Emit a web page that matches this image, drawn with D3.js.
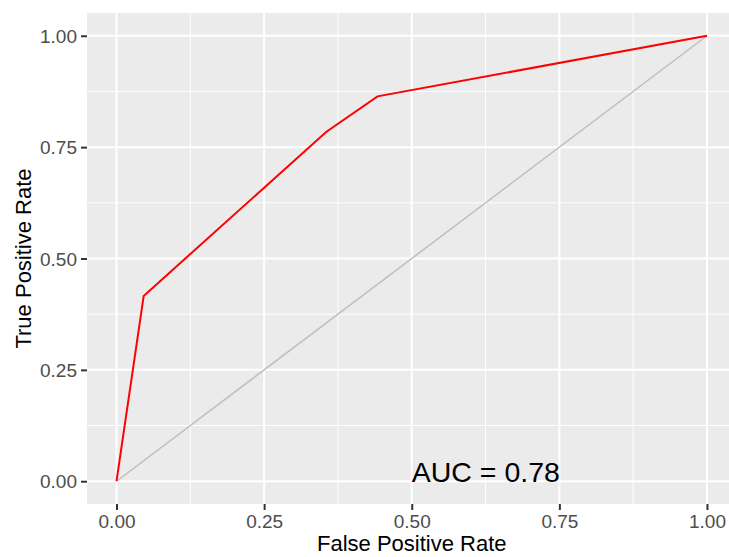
<!DOCTYPE html>
<html>
<head>
<meta charset="utf-8">
<script src="https://cdn.jsdelivr.net/npm/d3@7"></script>
<style>
    body { margin: 0; background: #fff; }
    text { font-family: "Liberation Sans", Arial, sans-serif; }
</style>
</head>
<body>
<div id="chart"></div>
<script>
// ROC curve points
const fpr = [0, 0.046, 0.355, 0.442, 1];
const tpr = [0, 0.416, 0.784, 0.864, 1];
const diagX = [0, 1];
const diagY = [0, 1];
const tickValues = [0, 0.25, 0.5, 0.75, 1];
const minorValues = [0.125, 0.375, 0.625, 0.875];
const aucLabel = "AUC = 0.78";

const width = 729, height = 557;
const panel = {left: 87, right: 729, top: 13, bottom: 504};

const svg = d3.select('#chart')
    .append('svg')
    .attr('width', width)
    .attr('height', height);

// ggplot style 5% expansion
const x = d3.scaleLinear().domain([-0.05, 1.05]).range([87, 736.5]);
const y = d3.scaleLinear().domain([-0.05, 1.05]).range([503.5, 13.5]);

svg.append('rect')
    .attr('x', panel.left)
    .attr('y', panel.top)
    .attr('width', panel.right - panel.left)
    .attr('height', panel.bottom - panel.top)
    .attr('fill', '#EBEBEB');

const grid = svg.append('g');
// minor grid
minorValues.forEach(v => {
    grid.append('line')
        .attr('x1', x(v)).attr('x2', x(v))
        .attr('y1', panel.top).attr('y2', panel.bottom)
        .attr('stroke', '#fff').attr('stroke-width', 1);
    grid.append('line')
        .attr('y1', y(v)).attr('y2', y(v))
        .attr('x1', panel.left).attr('x2', panel.right)
        .attr('stroke', '#fff').attr('stroke-width', 1);
});
// major grid
tickValues.forEach(v => {
    grid.append('line')
        .attr('x1', x(v)).attr('x2', x(v))
        .attr('y1', panel.top).attr('y2', panel.bottom)
        .attr('stroke', '#fff').attr('stroke-width', 2);
    grid.append('line')
        .attr('y1', y(v)).attr('y2', y(v))
        .attr('x1', panel.left).attr('x2', panel.right)
        .attr('stroke', '#fff').attr('stroke-width', 2);
});

const line = d3.line()
    .x(d => x(d[0]))
    .y(d => y(d[1]));

svg.append('path')
    .datum(diagX.map((d, i) => [d, diagY[i]]))
    .attr('d', line)
    .attr('fill', 'none')
    .attr('stroke', '#BEBEBE')
    .attr('stroke-width', 1.5);

svg.append('path')
    .datum(fpr.map((d, i) => [d, tpr[i]]))
    .attr('d', line)
    .attr('fill', 'none')
    .attr('stroke', '#FF0000')
    .attr('stroke-width', 2);

svg.append('text')
    .attr('x', x(0.5))
    .attr('y', y(0) + 1)
    .attr('font-size', '28.5px')
    .attr('fill', '#000')
    .text(aucLabel);

// axes
const xAxis = svg.append('g')
    .attr('transform', `translate(0,${panel.bottom})`)
    .call(d3.axisBottom(x).tickValues(tickValues).tickFormat(d3.format('.2f')).tickSize(6).tickPadding(5));
const yAxis = svg.append('g')
    .attr('transform', `translate(${panel.left},0)`)
    .call(d3.axisLeft(y).tickValues(tickValues).tickFormat(d3.format('.2f')).tickSize(6).tickPadding(4));

[xAxis, yAxis].forEach(a => {
    a.select('.domain').remove();
    a.selectAll('.tick line').attr('stroke', '#333').attr('stroke-width', 2);
    a.selectAll('.tick text')
        .attr('fill', '#4D4D4D')
        .style('font-size', '19px')
        .style('font-family', '"Liberation Sans", Arial, sans-serif');
});
yAxis.selectAll('.tick text').attr('dy', '0.35em');

svg.append('text')
    .attr('x', (x(0.5)))
    .attr('y', 551)
    .attr('text-anchor', 'middle')
    .attr('font-size', '22px')
    .attr('fill', '#000')
    .text('False Positive Rate');

svg.append('text')
    .attr('transform', `translate(31,${(y(0.5))}) rotate(-90)`)
    .attr('text-anchor', 'middle')
    .attr('font-size', '22px')
    .attr('fill', '#000')
    .text('True Positive Rate');
</script>
</body>
</html>
